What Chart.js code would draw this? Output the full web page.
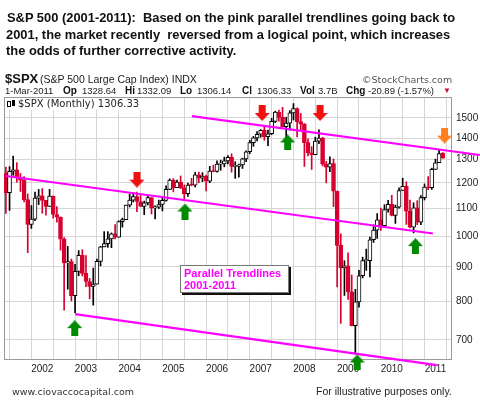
<!DOCTYPE html>
<html>
<head>
<meta charset="utf-8">
<script src="https://cdn.jsdelivr.net/npm/chart.js@4.4.0/dist/chart.umd.min.js"></script>
<style>
  body { margin: 0; background: #fff; font-family: "Liberation Sans", Arial, sans-serif; }
  #page { position: relative; width: 480px; height: 412px; overflow: hidden; }
  #chart { position: absolute; left: 0; top: 0; }
  .t { position: absolute; white-space: nowrap; line-height: 1; color: #111; }
  .b { font-weight: bold; font-size: 10px; }
  .v { font-size: 9.5px; color: #222; }
  .dv { font-family: "DejaVu Sans", Verdana, sans-serif; }
</style>
</head>
<body>
<div id="page">
  <canvas id="chart" width="480" height="412"></canvas>

  <div class="t" style="left:6px; top:10px; font-weight:bold; font-size:12.9px; line-height:16.7px;">
    <span style="padding-left:1px;">S&amp;P 500 (2001-2011):&nbsp; Based on the pink parallel trendlines going back to</span><br>
    2001, the market recently&nbsp; reversed from a logical point, which increases<br>
    the odds of further corrective activity.
  </div>

  <div class="t" style="left:5px; top:72px; font-weight:bold; font-size:13px;">$SPX</div>
  <div class="t" style="left:40px; top:74px; font-size:10.5px; color:#222;">(S&amp;P 500 Large Cap Index) INDX</div>
  <div class="t dv" style="left:362px; top:75px; font-size:9.5px; color:#555;">&copy;StockCharts.com</div>

  <div class="t v" style="left:5px; top:86.3px;">1-Mar-2011</div>
  <div class="t b" style="left:63px; top:85.8px;">Op</div>
  <div class="t v" style="left:82px; top:86.3px;">1328.64</div>
  <div class="t b" style="left:125px; top:85.8px;">Hi</div>
  <div class="t v" style="left:137px; top:86.3px;">1332.09</div>
  <div class="t b" style="left:180px; top:85.8px;">Lo</div>
  <div class="t v" style="left:197px; top:86.3px;">1306.14</div>
  <div class="t b" style="left:242px; top:85.8px;">Cl</div>
  <div class="t v" style="left:257px; top:86.3px;">1306.33</div>
  <div class="t b" style="left:300px; top:85.8px;">Vol</div>
  <div class="t v" style="left:318px; top:86.3px;">3.7B</div>
  <div class="t b" style="left:346px; top:85.8px;">Chg</div>
  <div class="t v" style="left:368px; top:86.3px;">-20.89 (-1.57%)</div>
  <div class="t" style="left:443px; top:87px; font-size:8px; color:#c8102e;">&#9660;</div>

  <div class="t dv" style="left:5px; top:98px; width:146px; height:12px; background:#fff; font-size:10px; color:#222;">
    <svg width="10" height="9" style="position:absolute; left:2px; top:1px;">
      <rect x="0.5" y="2.5" width="3" height="5" fill="#fff" stroke="#000"/>
      <rect x="5" y="1" width="3" height="6" fill="#000"/>
    </svg>
    <span style="position:absolute; left:13px; top:0.5px;">$SPX (Monthly) 1306.33</span>
  </div>

  <div class="t" style="left:180px; top:264.5px; width:107px; height:26px; background:#fff; border:1px solid #777; box-shadow:2px 2px 0 #111;">
    <div style="padding:1px 0 0 3px; font-weight:bold; font-size:11px; line-height:12px; color:#ff00ff;">Parallel Trendlines<br>2001-2011</div>
  </div>

  <div class="t dv" style="left:12px; top:387px; font-size:9.5px; color:#333;">www.ciovaccocapital.com</div>
  <div class="t" style="left:316px; top:386px; font-size:10.5px; color:#222;">For illustrative purposes only.</div>
</div>

<script>
// monthly $SPX candles, Mar 2001 .. Mar 2011
const startYear = 2001;
const startMonth = 3;

const opens = [
  1239.94, 1160.33, 1249.46, 1255.82, 1224.42, 1211.23, 1133.58, 1040.94, 1059.78, 1139.45,
  1148.08, 1130.20, 1106.73, 1147.39, 1076.92, 1067.14, 989.82, 911.62, 916.07, 815.28, 885.76, 936.31,
  879.82, 855.70, 841.15, 848.18, 916.92, 963.59, 974.50, 990.31, 1008.01, 995.97, 1050.71, 1058.20,
  1111.92, 1131.13, 1144.94, 1126.21, 1107.30, 1120.68, 1140.84, 1101.72, 1104.24, 1114.58, 1130.20, 1173.82,
  1211.92, 1181.27, 1203.60, 1180.59, 1156.85, 1191.50, 1191.33, 1234.18, 1220.33, 1228.81, 1207.01, 1249.48,
  1248.29, 1280.08, 1280.66, 1294.83, 1310.61, 1270.09, 1270.20, 1276.66, 1303.82, 1335.85, 1377.94, 1400.63,
  1418.30, 1438.24, 1406.82, 1420.86, 1482.37, 1530.62, 1503.35, 1455.27, 1473.99, 1526.75, 1549.38, 1481.14,
  1468.36, 1378.55, 1330.63, 1322.70, 1385.59, 1400.38, 1280.00, 1267.38, 1282.83, 1166.36, 968.75, 896.24,
  903.25, 825.88, 735.09, 797.87, 872.81, 919.14, 919.32, 987.48, 1020.62, 1057.08, 1036.19, 1095.63,
  1115.10, 1073.87, 1104.49, 1169.43, 1186.69, 1089.41, 1030.71, 1101.60, 1049.33, 1141.20, 1183.26, 1180.55,
  1257.64, 1286.12, 1328.64
];
const highs = [
  1267.42, 1269.30, 1315.93, 1286.62, 1239.78, 1226.27, 1155.40, 1110.61, 1163.38, 1173.62,
  1176.97, 1130.20, 1173.94, 1147.84, 1106.59, 1067.66, 994.46, 965.00, 924.02, 907.44, 951.57, 954.28,
  935.05, 864.64, 895.90, 924.24, 965.38, 1015.33, 1015.41, 1011.01, 1040.29, 1053.79, 1063.65, 1112.56,
  1155.38, 1158.98, 1163.23, 1150.57, 1127.74, 1146.34, 1140.84, 1109.68, 1131.54, 1142.05, 1188.46, 1217.33,
  1217.80, 1212.16, 1229.11, 1191.88, 1199.56, 1219.59, 1245.15, 1245.86, 1243.13, 1233.34, 1270.64, 1275.80,
  1294.90, 1297.57, 1310.88, 1318.16, 1326.70, 1290.68, 1280.42, 1306.74, 1340.28, 1389.45, 1407.89, 1431.81,
  1441.61, 1461.57, 1438.89, 1498.02, 1535.56, 1540.56, 1555.90, 1503.89, 1538.74, 1576.09, 1552.76, 1523.57,
  1471.77, 1396.02, 1359.68, 1404.57, 1440.24, 1404.05, 1292.17, 1313.15, 1303.04, 1167.03, 1007.51, 918.85,
  943.85, 875.01, 832.98, 888.70, 930.17, 956.23, 996.68, 1039.47, 1080.15, 1101.36, 1113.69, 1130.38,
  1150.45, 1112.42, 1180.16, 1219.80, 1205.13, 1131.23, 1120.95, 1129.24, 1148.90, 1196.14, 1227.08, 1262.60,
  1302.67, 1344.07, 1332.09
];
const lows = [
  1081.19, 1091.99, 1232.00, 1203.03, 1165.54, 1124.87, 944.75, 1026.76, 1054.31, 1114.25,
  1081.66, 1074.36, 1106.73, 1063.46, 1048.96, 952.92, 775.68, 833.44, 800.20, 768.63, 872.57, 871.84,
  840.34, 806.29, 788.90, 847.85, 902.83, 963.59, 962.10, 960.84, 990.36, 995.97, 1031.20, 1058.20,
  1105.08, 1124.44, 1087.16, 1107.23, 1076.32, 1113.32, 1078.78, 1060.72, 1099.18, 1090.19, 1127.60, 1173.76,
  1163.75, 1180.80, 1176.92, 1136.15, 1146.18, 1188.30, 1183.55, 1201.07, 1205.35, 1168.20, 1201.07, 1246.59,
  1245.74, 1253.61, 1268.42, 1280.74, 1245.34, 1219.29, 1224.54, 1261.30, 1290.93, 1327.10, 1360.98, 1385.93,
  1403.97, 1389.42, 1363.98, 1416.37, 1476.70, 1484.18, 1454.25, 1370.60, 1439.29, 1489.56, 1406.10, 1435.65,
  1270.05, 1316.75, 1256.98, 1322.00, 1373.07, 1272.00, 1200.44, 1247.45, 1106.39, 839.80, 741.02, 815.69,
  804.47, 734.52, 666.79, 783.32, 866.10, 888.86, 869.32, 978.51, 991.97, 1019.95, 1029.38, 1085.89,
  1071.59, 1044.50, 1101.01, 1169.43, 1040.78, 1028.33, 1010.91, 1039.70, 1039.70, 1131.87, 1173.00, 1173.80,
  1257.64, 1286.12, 1306.14
];
const closes = [
  1160.33, 1249.46, 1255.82, 1224.42, 1211.23, 1133.58, 1040.94, 1059.78, 1139.45, 1148.08,
  1130.20, 1106.73, 1147.39, 1076.92, 1067.14, 989.82, 911.62, 916.07, 815.28, 885.76, 936.31, 879.82,
  855.70, 841.15, 848.18, 916.92, 963.59, 974.50, 990.31, 1008.01, 995.97, 1050.71, 1058.20, 1111.92,
  1131.13, 1144.94, 1126.21, 1107.30, 1120.68, 1140.84, 1101.72, 1104.24, 1114.58, 1130.20, 1173.82, 1211.92,
  1181.27, 1203.60, 1180.59, 1156.85, 1191.50, 1191.33, 1234.18, 1220.33, 1228.81, 1207.01, 1249.48, 1248.29,
  1280.08, 1280.66, 1294.83, 1310.61, 1270.09, 1270.20, 1276.66, 1303.82, 1335.85, 1377.94, 1400.63, 1418.30,
  1438.24, 1406.82, 1420.86, 1482.37, 1530.62, 1503.35, 1455.27, 1473.99, 1526.75, 1549.38, 1481.14, 1468.36,
  1378.55, 1330.63, 1322.70, 1385.59, 1400.38, 1280.00, 1267.38, 1282.83, 1166.36, 968.75, 896.24, 903.25,
  825.88, 735.09, 797.87, 872.81, 919.14, 919.32, 987.48, 1020.62, 1057.08, 1036.19, 1095.63, 1115.10,
  1073.87, 1104.49, 1169.43, 1186.69, 1089.41, 1030.71, 1101.60, 1049.33, 1141.20, 1183.26, 1180.55, 1257.64,
  1286.12, 1327.22, 1306.33
];

// axis labels
const yearLabels = ['2002', '2003', '2004', '2005', '2006', '2007', '2008', '2009', '2010', '2011'];
const priceTicks = [700, 800, 900, 1000, 1100, 1200, 1300, 1400, 1500];

// pink trendlines: [month, price] ends (month 0 = Jan 2001)
const upperTrend = [[53.1, 1510], [132.2, 1321]];
const middleTrend = [[2.0, 1229], [119.3, 1009]];
const lowerTrend = [[21.0, 765], [120.4, 642]];

// arrows: month and price level
const redArrowMonths = [38.0, 72.4, 88.3];
const redArrowLevels = [1214, 1526, 1526];
const greenArrowMonths = [20.9, 51.2, 79.4, 98.5, 114.5];
const greenArrowLevels = [729, 1088, 1379, 648, 966];
const orangeArrowMonths = [122.5];
const orangeArrowLevels = [1412];

const RED = '#d6002f';
const PINK = '#ff00ff';

const firstIdx = (startYear - 2001) * 12 + (startMonth - 1);
const monthAt = i => firstIdx + i;
const isUp = opens.map((o, i) => closes[i] >= o);

function makeArrow(color, down) {
  const c = document.createElement('canvas');
  c.width = 15; c.height = 16;
  const g = c.getContext('2d');
  g.fillStyle = color;
  g.beginPath();
  if (down) {
    g.moveTo(4, 0); g.lineTo(11, 0); g.lineTo(11, 8); g.lineTo(15, 8);
    g.lineTo(7.5, 16); g.lineTo(0, 8); g.lineTo(4, 8);
  } else {
    g.moveTo(7.5, 0); g.lineTo(15, 8); g.lineTo(11, 8); g.lineTo(11, 16);
    g.lineTo(4, 16); g.lineTo(4, 8); g.lineTo(0, 8);
  }
  g.closePath();
  g.fill();
  return c;
}

function trend(ends) {
  return {
    type: 'line',
    data: ends.map(p => ({ x: p[0], y: p[1] })),
    borderColor: PINK,
    borderWidth: 2.2,
    pointRadius: 0,
    clip: false,
    order: 1
  };
}

function arrows(months, levels, img) {
  return {
    type: 'line',
    data: months.map((m, i) => ({ x: m, y: levels[i] })),
    showLine: false,
    pointStyle: img,
    pointRadius: 9,
    clip: false,
    order: 0
  };
}

const plotBorder = {
  id: 'plotBorder',
  beforeDatasetsDraw(chart) {
    const a = chart.chartArea, ctx = chart.ctx;
    ctx.save();
    ctx.strokeStyle = '#9a9a9a';
    ctx.lineWidth = 1;
    ctx.strokeRect(a.left + 0.5, a.top + 0.5, a.width - 1, a.height - 1);
    ctx.restore();
  }
};

new Chart(document.getElementById('chart'), {
  type: 'line',
  data: {
    datasets: [
      {
        type: 'bar',
        data: lows.map((l, i) => ({ x: monthAt(i), y: [l, highs[i]] })),
        backgroundColor: isUp.map(u => u ? '#000' : RED),
        barThickness: 1,
        grouped: false,
        order: 3
      },
      {
        type: 'bar',
        data: opens.map((o, i) => ({ x: monthAt(i), y: [o, closes[i]] })),
        backgroundColor: isUp.map(u => u ? '#fff' : RED),
        borderColor: isUp.map(u => u ? '#000' : RED),
        borderWidth: 1,
        borderSkipped: false,
        barThickness: 4,
        minBarLength: 1,
        grouped: false,
        order: 2
      },
      trend(upperTrend),
      trend(middleTrend),
      trend(lowerTrend),
      arrows(redArrowMonths, redArrowLevels, makeArrow('#f01010', true)),
      arrows(orangeArrowMonths, orangeArrowLevels, makeArrow('#ff7f1e', true)),
      arrows(greenArrowMonths, greenArrowLevels, makeArrow('#008a00', false))
    ]
  },
  options: {
    responsive: false,
    animation: false,
    layout: { padding: { left: 4, top: 97, right: 0, bottom: 36 }, autoPadding: false },
    plugins: { legend: { display: false }, tooltip: { enabled: false } },
    scales: {
      x: {
        type: 'linear',
        min: 1.48,
        max: 124.55,
        offset: false,
        afterFit: s => { s.height = 16; },
        afterBuildTicks: s => {
          const t = [];
          for (let m = 6; m <= 120; m += 6) t.push({ value: m });
          s.ticks = t;
        },
        grid: { color: '#d6d6d6', drawTicks: false },
        border: { display: false },
        ticks: {
          padding: 3,
          autoSkip: false,
          maxRotation: 0,
          color: '#222',
          font: { family: 'Liberation Sans', size: 10 },
          callback: v => (v % 12 === 0 ? yearLabels[v / 12 - 1] || '' : '')
        }
      },
      y: {
        type: 'logarithmic',
        position: 'right',
        min: 653.5,
        max: 1612,
        afterFit: s => { s.width = 28; },
        afterBuildTicks: s => { s.ticks = priceTicks.map(v => ({ value: v })); },
        grid: { color: '#d6d6d6', drawTicks: false },
        border: { display: false },
        ticks: {
          padding: 4,
          color: '#222',
          font: { family: 'Liberation Sans', size: 10 },
          callback: v => String(v)
        }
      }
    }
  },
  plugins: [plotBorder]
});
</script>
</body>
</html>
